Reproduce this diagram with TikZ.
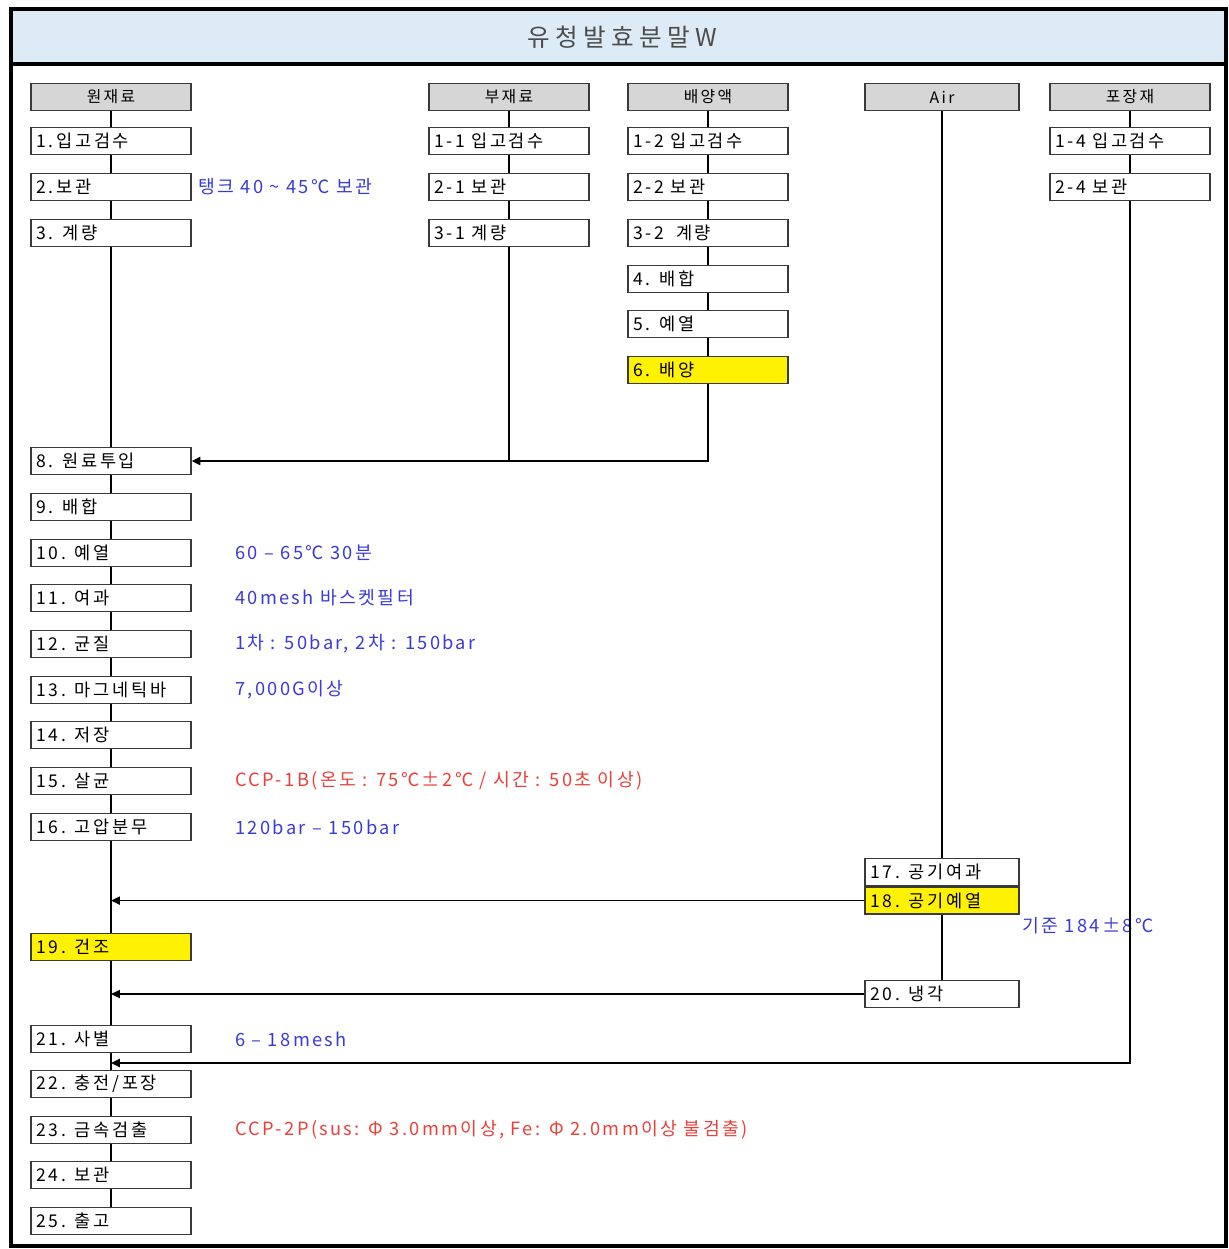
\documentclass[tikz,border=0pt]{standalone}
\usepackage{fontspec}
\setmainfont{Noto Sans CJK KR}
\newfontfamily\stepfont[LetterSpace=15]{Noto Sans CJK KR}
\newfontfamily\notefont[LetterSpace=13]{Noto Sans CJK KR}
\newfontfamily\titlefont[LetterSpace=22]{Noto Sans CJK KR}
\usetikzlibrary{arrows.meta}
\definecolor{titlefill}{HTML}{DDEBF7}
\definecolor{headfill}{HTML}{D6D6D6}
\definecolor{noteblue}{HTML}{3A3AD6}
\definecolor{notered}{HTML}{E8403A}
\definecolor{boxline}{HTML}{3A3A3A}
\begin{document}
\begin{tikzpicture}[x=0.02cm,y=-0.02cm,
		stepbox/.style={draw=boxline,line width=0.9pt,fill=white,minimum height=0.54cm,text width=2.98cm,inner xsep=3pt,inner ysep=2pt,align=left,font=\stepfont\fontsize{10}{11}\selectfont},
		headbox/.style={stepbox,fill=headfill,align=center,font=\stepfont\fontsize{9}{10}\selectfont},
		hi/.style={fill=yellow},
		note/.style={anchor=west,text=noteblue,inner sep=1pt,font=\notefont\fontsize{10.4}{11}\selectfont},
		ccp/.style={note,text=notered},
		flow/.style={line width=0.8pt},
		trunk/.style={line width=1.2pt},
		feed/.style={line width=1pt,-{Triangle[length=5pt,width=4.5pt]}}]
				\useasboundingbox (0,0) rectangle (1229,1249);
				\fill[titlefill] (11,9) rectangle (1226,64);
				\draw[line width=1.8pt] (11,9) rectangle (1226,1246);
				\draw[line width=1.8pt] (11,64)--(1226,64);
				\node[font=\titlefont\fontsize{14}{16}\selectfont,text=black!70] (title) at (622,37) {유청발효분말W};
				\node[headbox] (h1) at (111,97) {원재료};
				\node[headbox] (h2) at (509,97) {부재료};
				\node[headbox] (h3) at (708,97) {배양액};
				\node[headbox,text width=2.86cm] (h4) at (942,97) {Air};
				\node[headbox] (h5) at (1130,97) {포장재};
				\node[stepbox] (s1) at (111,141) {1.입고검수};
				\node[stepbox] (s2) at (111,187) {2.보관};
				\node[stepbox] (s3) at (111,233) {3. 계량};
				\node[stepbox] (a1) at (509,141) {1-1 입고검수};
				\node[stepbox] (a2) at (509,187) {2-1 보관};
				\node[stepbox] (a3) at (509,233) {3-1 계량};
				\node[stepbox] (b1) at (708,141) {1-2 입고검수};
				\node[stepbox] (b2) at (708,187) {2-2 보관};
				\node[stepbox] (b3) at (708,233) {3-2 \ 계량};
				\node[stepbox] (s4) at (708,279) {4. 배합};
				\node[stepbox] (s5) at (708,324) {5. 예열};
				\node[stepbox,hi] (s6) at (708,370) {6. 배양};
				\node[stepbox] (p1) at (1130,141) {1-4 입고검수};
				\node[stepbox] (p2) at (1130,187) {2-4 보관};
				\node[stepbox] (s8) at (111,461) {8. 원료투입};
				\node[stepbox] (s9) at (111,507) {9. 배합};
				\node[stepbox] (s10) at (111,553) {10. 예열};
				\node[stepbox] (s11) at (111,598) {11. 여과};
				\node[stepbox] (s12) at (111,644) {12. 균질};
				\node[stepbox] (s13) at (111,690) {13. 마그네틱바};
				\node[stepbox] (s14) at (111,735) {14. 저장};
				\node[stepbox] (s15) at (111,781) {15. 살균};
				\node[stepbox] (s16) at (111,827) {16. 고압분무};
				\node[stepbox,text width=2.86cm] (s17) at (942,872) {17. 공기여과};
				\node[stepbox,hi,text width=2.86cm,anchor=north] (s18) at (s17.south) {18. 공기예열};
				\node[stepbox,hi] (s19) at (111,947) {19. 건조};
				\node[stepbox,text width=2.86cm] (s20) at (942,994) {20. 냉각};
				\node[stepbox] (s21) at (111,1039) {21. 사별};
				\node[stepbox] (s22) at (111,1084) {22. 충전/포장};
				\node[stepbox] (s23) at (111,1130) {23. 금속검출};
				\node[stepbox] (s24) at (111,1175) {24. 보관};
				\node[stepbox] (s25) at (111,1221) {25. 출고};
				\node[note] (n2) at (196,187) {탱크 40 \textasciitilde{} 45℃ 보관};
				\node[note] (n10) at (233,553) {60 – 65℃ 30분};
				\node[note] (n11) at (233,598) {40mesh 바스켓필터};
				\node[note] (n12) at (233,644) {1차 : 50bar, 2차 : 150bar};
				\node[note] (n13) at (233,690) {7,000G이상};
				\node[ccp] (n15) at (233,781) {CCP-1B(온도 : 75℃±2℃ / 시간 : 50초 이상)};
				\node[note] (n16) at (233,827) {120bar – 150bar};
				\node[note] (n18) at (1020,926) {기준 184±8℃};
				\node[note] (n21) at (233,1039) {6 – 18mesh};
				\node[ccp] (n23) at (233,1130) {CCP-2P(sus: Φ 3.0mm이상, Fe: Φ 2.0mm이상 불검출)};
				\foreach \a/\b in {h1/s1,s1/s2,s2/s3,s3/s8,s8/s9,s9/s10,s10/s11,s11/s12,s12/s13,s13/s14,s14/s15,s15/s16,s16/s19,s19/s21,s21/s22,s22/s23,s23/s24,s24/s25,h2/a1,a1/a2,a2/a3,h3/b1,b1/b2,b2/b3,b3/s4,s4/s5,s5/s6,h5/p1,p1/p2}
					\draw[flow] (\a)--(\b);
				\coordinate (j2) at (a3.south |- s8);
				\coordinate (pk) at (111,1063);
				\draw[trunk] (a3)--(j2);
				\draw[feed,line width=1.4pt] (s6) |- (s8);
				\draw[trunk] (h4)--(s17);
				\draw[trunk] (s18)--(s20);
				\draw[feed] (s18.west)--(s18.west -| s1);
				\draw[feed] (s20.west)--(s20.west -| s1);
				\draw[feed,line width=1.2pt] (p2) |- (pk);
			\end{tikzpicture}
\end{document}
